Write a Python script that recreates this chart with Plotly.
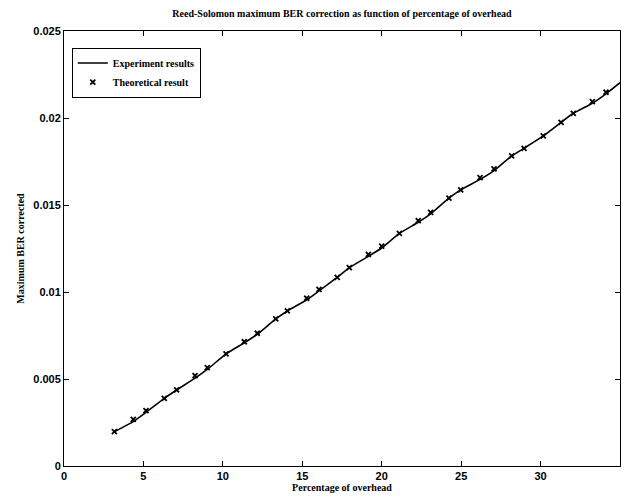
import plotly.graph_objects as go

# Overhead percentage (x) for each Reed-Solomon configuration
overhead_pct = [3.17, 4.36, 5.16, 6.31, 7.09, 8.25, 9.02, 10.20, 11.35, 12.17,
                13.33, 14.06, 15.28, 16.05, 17.20, 17.96, 19.16, 20.00, 21.11, 22.30,
                23.08, 24.23, 24.97, 26.19, 27.07, 28.18, 28.96, 30.17, 31.29, 32.06,
                33.26, 34.12]

# Theoretical maximum correctable BER
theoretical_ber = [0.00197, 0.00268, 0.00318, 0.00389, 0.00437, 0.00519, 0.00565, 0.00644,
                   0.00714, 0.00763, 0.00845, 0.00891, 0.00964, 0.01015, 0.01084, 0.01140,
                   0.01216, 0.01264, 0.01337, 0.01410, 0.01458, 0.01539, 0.01587, 0.01657,
                   0.01707, 0.01782, 0.01826, 0.01897, 0.01975, 0.02027, 0.02094, 0.02148]

# Measured maximum correctable BER
experiment_pct = overhead_pct + [35.0]
experiment_ber = [0.00197, 0.00255, 0.00308, 0.00389, 0.00437, 0.00505, 0.00555, 0.00644,
                  0.00708, 0.00757, 0.00845, 0.00891, 0.00955, 0.01006, 0.01084, 0.01140,
                  0.01205, 0.01253, 0.01337, 0.01401, 0.01449, 0.01539, 0.01587, 0.01647,
                  0.01698, 0.01782, 0.01826, 0.01897, 0.01975, 0.02027, 0.02085, 0.02139,
                  0.02203]

x_ticks = [0, 5, 10, 15, 20, 25, 30, 35]
y_ticks = [0, 0.005, 0.01, 0.015, 0.02, 0.025]
y_tick_text = ["0", "0.005", "0.01", "0.015", "0.02", "0.025"]

serif = "Liberation Serif"
sans = "Liberation Sans"

fig = go.Figure()
fig.add_trace(go.Scatter(
    x=experiment_pct, y=experiment_ber, mode="lines",
    name="<b>Experiment results</b>",
    line=dict(color="black", width=1.6, shape="spline", smoothing=0.4),
))
fig.add_trace(go.Scatter(
    x=overhead_pct, y=theoretical_ber, mode="markers",
    name="<b>Theoretical result</b>",
    marker=dict(symbol="x-thin", size=5, color="black",
                line=dict(color="black", width=1.8)),
))

axis_common = dict(
    showgrid=False, zeroline=False, showline=True, linecolor="black", linewidth=1,
    mirror="ticks", ticks="inside", ticklen=5, tickcolor="black", tickwidth=1,
    tickfont=dict(family=sans, size=11, color="black", weight="bold"),
)

fig.update_layout(
    width=625, height=500,
    margin=dict(l=64, r=5, t=31, b=34),
    paper_bgcolor="white", plot_bgcolor="white",
    title=dict(
        text="<b>Reed-Solomon maximum BER correction as function of percentage of overhead</b>",
        font=dict(family=serif, size=10, color="black"),
        x=0.5, xanchor="center", xref="paper", y=0.974, yanchor="middle",
    ),
    xaxis=dict(
        range=[0, 35], tickvals=x_ticks,
        title=dict(text="<b>Percentage of overhead</b>",
                   font=dict(family=serif, size=10, color="black"), standoff=1),
        **axis_common,
    ),
    yaxis=dict(
        range=[0, 0.025], tickvals=y_ticks, ticktext=y_tick_text,
        title=dict(text="<b>Maximum BER corrected</b>",
                   font=dict(family=serif, size=10, color="black"), standoff=6),
        **axis_common,
    ),
    legend=dict(
        x=0.014, y=0.962, xanchor="left", yanchor="top",
        bgcolor="white", bordercolor="black", borderwidth=1,
        font=dict(family=serif, size=10, color="black"),
        tracegroupgap=0, itemwidth=30,
    ),
    showlegend=True,
)

fig.write_html("out.html")
